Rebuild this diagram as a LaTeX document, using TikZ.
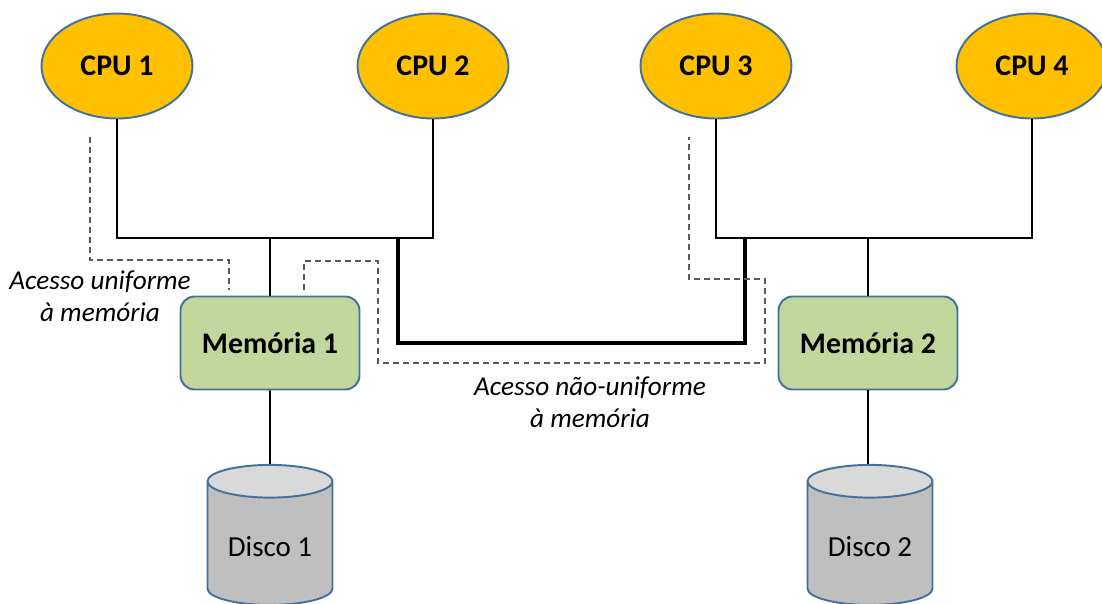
\documentclass[tikz,border=0pt]{standalone}
\usepackage{fontspec}
\setmainfont{Carlito}
\usetikzlibrary{shapes.geometric}

\definecolor{cpufill}{HTML}{FFC000}
\definecolor{memfill}{HTML}{C3D69B}
\definecolor{edge}{HTML}{41719C}
\definecolor{diskbody}{HTML}{BFBFBF}
\definecolor{disktop}{HTML}{D9D9D9}
\definecolor{dashgray}{HTML}{595959}

\begin{document}
\begin{tikzpicture}[x=0.02cm, y=-0.02cm,
  cpu/.style={ellipse, draw=edge, line width=1.1pt, fill=cpufill, minimum width=3.02cm, minimum height=2.1cm, font=\fontsize{17}{20}\selectfont\bfseries},
  mem/.style={draw=edge, line width=1.1pt, fill=memfill, rounded corners=8pt, minimum width=3.58cm, minimum height=1.86cm, font=\fontsize{17}{20}\selectfont\bfseries},
  disk/.style={cylinder, shape border rotate=90, draw=edge, line width=1.1pt, cylinder uses custom fill, cylinder body fill=diskbody, cylinder end fill=disktop, minimum height=2.8cm, minimum width=2.5cm, aspect=0.34, font=\fontsize{16.5}{20}\selectfont},
  bus/.style={line width=1.1pt},
  link/.style={line width=2.8pt},
  region/.style={dashgray, line width=0.9pt, dash pattern=on 3.4pt off 2.3pt},
  note/.style={align=center, font=\fontsize{15.5}{18.5}\selectfont\itshape}]
  \useasboundingbox (0,0) rectangle (1102,603);

  % Processors
  \node[cpu] (cpu1) at (117,66) {CPU 1};
  \node[cpu] (cpu2) at (433,66) {CPU 2};
  \node[cpu] (cpu3) at (716,66) {CPU 3};
  \node[cpu] (cpu4) at (1032,66) {CPU 4};

  % Memories and disks
  \node[mem] (mem1) at (270,343) {Memória 1};
  \node[mem] (mem2) at (868,343) {Memória 2};
  \node[disk] (disk1) at (270,547) {Disco 1};
  \node[disk] (disk2) at (870,547) {Disco 2};

  % Bus junctions
  \coordinate (bus1) at (270,238);
  \coordinate (bus2) at (868,238);
  \coordinate (link1) at (398,238);
  \coordinate (link2) at (745,238);
  \coordinate (linkbot) at (570,343);

  % Local buses
  \draw[bus] (cpu1) |- (bus1) -| (cpu2);
  \draw[bus] (cpu3) |- (bus2) -| (cpu4);
  \draw[bus] (bus1) -- (mem1);
  \draw[bus] (bus2) -- (mem2);
  \draw[bus] (mem1) -- (disk1);
  \draw[bus] (mem2.south) -- (mem2.south |- disk2.north);

  % Interconnect between the two nodes
  \draw[link] (link1) |- (linkbot) -| (link2);

  % Access regions
  \draw[region] (90,137) -- (90,260) -- (229,260) -- (229,290);
  \draw[region] (304,290) -- (304,261) -- (378,261) -- (378,363) -- (765,363) -- (765,279) -- (689,279) -- (689,137);

  % Labels
  \node[note] (uma) at (100,296) {Acesso uniforme\\à memória};
  \node[note] (numa) at (590,402) {Acesso não-uniforme\\à memória};
\end{tikzpicture}
\end{document}
